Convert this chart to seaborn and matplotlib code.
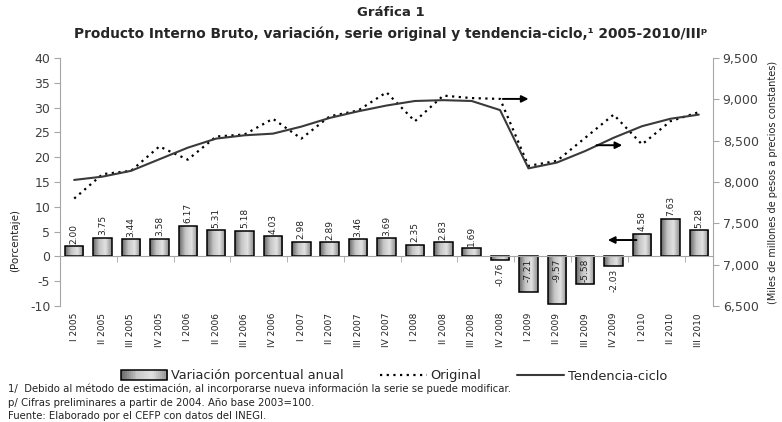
import numpy as np
import pandas as pd
import seaborn as sns
import matplotlib.pyplot as plt
from matplotlib.colors import LinearSegmentedColormap
from matplotlib.patches import Rectangle
from matplotlib.lines import Line2D
from matplotlib.legend_handler import HandlerBase

# datos
trimestres = ['I 2005', 'II 2005', 'III 2005', 'IV 2005',
              'I 2006', 'II 2006', 'III 2006', 'IV 2006',
              'I 2007', 'II 2007', 'III 2007', 'IV 2007',
              'I 2008', 'II 2008', 'III 2008', 'IV 2008',
              'I 2009', 'II 2009', 'III 2009', 'IV 2009',
              'I 2010', 'II 2010', 'III 2010']
variacion = [2.00, 3.75, 3.44, 3.58, 6.17, 5.31, 5.18, 4.03, 2.98, 2.89, 3.46, 3.69,
             2.35, 2.83, 1.69, -0.76, -7.21, -9.57, -5.58, -2.03, 4.58, 7.63, 5.28]
original = [7800, 8095, 8135, 8430, 8270, 8550, 8575, 8765, 8525, 8795, 8865, 9085,
            8735, 9045, 9015, 9005, 8195, 8255, 8535, 8815, 8455, 8735, 8845]
tendencia = [8025, 8065, 8135, 8275, 8415, 8525, 8565, 8585, 8670, 8775, 8855, 8925,
             8980, 8990, 8980, 8870, 8165, 8235, 8375, 8535, 8675, 8765, 8815]

df = pd.DataFrame({'trimestre': trimestres, 'variacion': variacion,
                   'original': original, 'tendencia': tendencia})
df['pos'] = np.arange(len(df))

sns.set_style('white')
plt.rcParams['font.family'] = ['DejaVu Sans']
plt.rcParams['axes.unicode_minus'] = False
gris = '#a6a6a6'
texto = '#404040'

# degradado gris de las barras
cmap = LinearSegmentedColormap.from_list('barra', ['#666666', '#c4c4c4', '#e2e2e2', '#8c8c8c'])


class Degradado(HandlerBase):
    # cuadro de la leyenda con el mismo degradado
    def create_artists(self, legend, orig, xd, yd, width, height, fontsize, trans):
        n = 24
        arts = [Rectangle((-xd + width * k / n, -yd), width / n * 1.1, height,
                          facecolor=cmap((k + 0.5) / n), edgecolor='none', transform=trans)
                for k in range(n)]
        arts.append(Rectangle((-xd, -yd), width, height, facecolor='none',
                              edgecolor='black', linewidth=1.1, transform=trans))
        return arts


fig = plt.figure(figsize=(7.82, 4.22), dpi=100)
ax = fig.add_axes([60 / 782, 1 - 306 / 422, 653 / 782, 248 / 422])

sns.barplot(data=df, x='trimestre', y='variacion', ax=ax, color='#b0b0b0',
            edgecolor='black', linewidth=1.1, width=0.65)

grad = np.linspace(0, 1, 64).reshape(1, -1)
for p in ax.patches:
    x0, y0, w, h = p.get_x(), p.get_y(), p.get_width(), p.get_height()
    im = ax.imshow(grad, cmap=cmap, extent=[x0, x0 + w, y0, y0 + h], aspect='auto', zorder=1.5)
    im.set_clip_path(p)
    p.set_facecolor('none')
    p.set_zorder(2)

for i, v in enumerate(variacion):
    if v >= 0:
        ax.text(i, v + 0.5, f'{v:.2f}', rotation=90, ha='center', va='bottom', fontsize=6.5, color='#222222')
    else:
        y = v - 0.4 if v > -3 else -0.4
        ax.text(i, y, f'{v:.2f}', rotation=90, ha='center', va='top', fontsize=6.5, color='#222222', zorder=3)

ax.set_xlim(-0.5, len(df) - 0.5)
ax.set_ylim(-10, 40)
ax.set_yticks(np.arange(-10, 41, 5))
ax.set_xticks(df['pos'])
ax.set_xticklabels(trimestres)
ax.set_xticks(np.arange(1.5, len(df) - 1, 2), minor=True)
ax.tick_params(axis='y', left=True, direction='out', length=4, color=gris, labelsize=9, labelcolor=texto, pad=3)
ax.set_xlabel('')
ax.set_ylabel('')
ax.spines['top'].set_position(('data', 0))
ax.spines['top'].set_color(gris)
ax.spines['left'].set_color(gris)
ax.spines['bottom'].set_visible(False)
ax.spines['right'].set_visible(False)

ax2 = ax.twinx()
sns.lineplot(data=df, x='pos', y='original', ax=ax2, color='black', linestyle=(0, (1, 2)), linewidth=1.6)
sns.lineplot(data=df, x='pos', y='tendencia', ax=ax2, color='#3a3a3a', linewidth=1.5)
ax2.set_ylim(6500, 9500)
ax2.set_yticks(np.arange(6500, 9501, 500))
ax2.set_yticklabels([f'{t:,}' for t in range(6500, 9501, 500)])
ax2.tick_params(axis='y', right=True, direction='out', length=4, color=gris, labelsize=9, labelcolor=texto, pad=3)
ax2.set_ylabel('')
ax2.set_xlabel('')
for s in ['top', 'left', 'bottom']:
    ax2.spines[s].set_visible(False)
ax2.spines['right'].set_color(gris)
ax2.set_xlim(-0.5, len(df) - 0.5)

# etiquetas del eje x al final para que no se pierdan
ax.tick_params(axis='x', which='major', length=0, pad=5, top=False, bottom=True,
               labelrotation=90, labelsize=6.5, labelcolor='#222222')
ax.tick_params(axis='x', which='minor', top=True, bottom=False, direction='in', length=4, color=gris)
ax2.tick_params(axis='x', which='both', top=False, bottom=False, labeltop=False, labelbottom=False)

flecha = dict(arrowstyle='-|>', color='black', lw=1.4, mutation_scale=10)
ax2.annotate('', xy=(16.1, 9005), xytext=(15.0, 9005), arrowprops=flecha)
ax2.annotate('', xy=(19.4, 8445), xytext=(18.3, 8445), arrowprops=flecha)
ax2.annotate('', xy=(18.7, 7298), xytext=(19.9, 7298), arrowprops=flecha)

fig.text(15 / 782, 1 - 240 / 422, '(Porcentaje)', rotation=90, ha='center', va='center', fontsize=7.5, color='#222222')
fig.text(773 / 782, 1 - 182 / 422, '(Miles de millones de pesos a precios constantes)',
         rotation=90, ha='center', va='center', fontsize=7, color='#222222')

fig.text(0.5, 1 - 12 / 422, 'Gráfica 1', ha='center', va='center', fontsize=9.5, weight='bold')
fig.text(0.5, 1 - 34 / 422, 'Producto Interno Bruto, variación, serie original y tendencia-ciclo,¹ 2005-2010/IIIᵖ',
         ha='center', va='center', fontsize=9.9, weight='bold')

barra = Rectangle((0, 0), 1, 1)
handles = [barra,
           Line2D([], [], color='black', linestyle=(0, (1, 2)), linewidth=1.6),
           Line2D([], [], color='#3a3a3a', linewidth=1.5)]
fig.legend(handles, ['Variación porcentual anual', 'Original', 'Tendencia-ciclo'],
           loc='center', bbox_to_anchor=(394 / 782, 1 - 376 / 422), ncol=3, frameon=False,
           fontsize=9.3, handlelength=3.6, handletextpad=0.3, columnspacing=2.8,
           handler_map={barra: Degradado()})

notas = ['1/  Debido al método de estimación, al incorporarse nueva información la serie se puede modificar.',
         'p/ Cifras preliminares a partir de 2004. Año base 2003=100.',
         'Fuente: Elaborado por el CEFP con datos del INEGI.']
for k, n in enumerate(notas):
    fig.text(8 / 782, 1 - (389 + 13.5 * k) / 422, n, ha='left', va='center', fontsize=7.3, color='#222222')

fig.savefig('out.png', dpi=100)
